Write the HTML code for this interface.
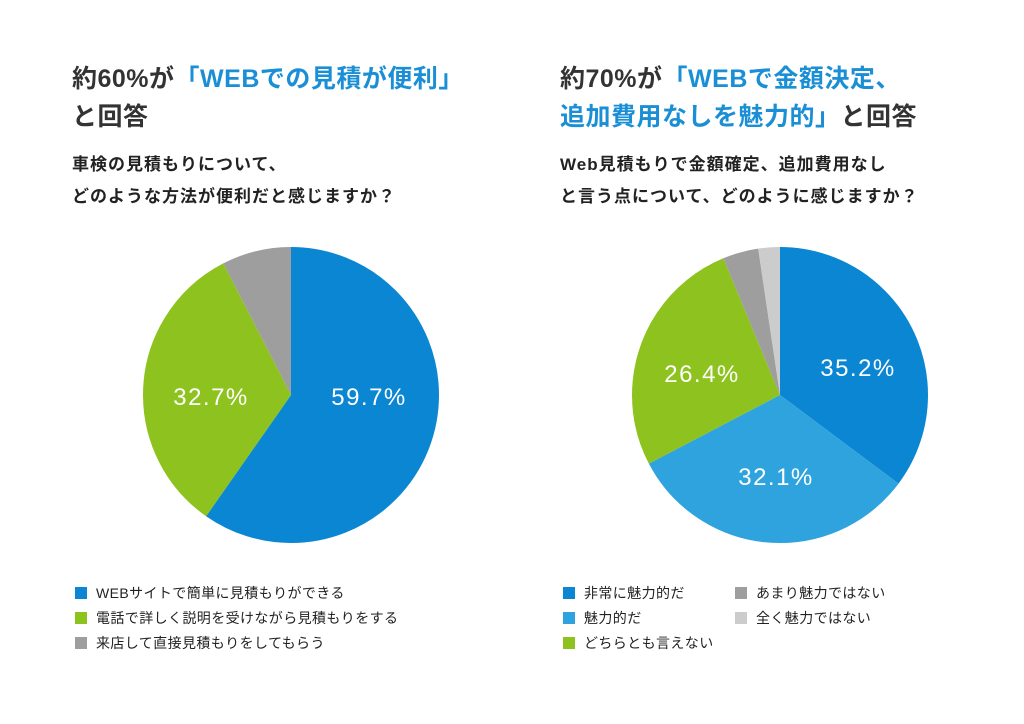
<!DOCTYPE html>
<html><head><meta charset="utf-8"><style>
body{margin:0;width:1024px;height:724px;background:#fff;overflow:hidden;position:relative;font-family:"Liberation Sans","Noto Sans CJK JP",sans-serif;color:#333;}
.t{position:absolute;font-weight:bold;white-space:nowrap;}
.h{font-size:25px;line-height:38px;letter-spacing:0.5px}
.b{color:#1a8fd6}
.s{font-size:17px;line-height:32px;color:#222;letter-spacing:1px}
.lg{position:absolute;font-size:14px;color:#222;white-space:nowrap;letter-spacing:0.4px}
.lg i{display:inline-block;width:12px;height:12px;margin-right:9px;vertical-align:-1px}
svg{position:absolute;left:0;top:0}
</style></head><body>
<div class="t h" style="left:72px;top:60px">約60%が<span class="b">「WEBでの見積が便利」</span><br>と回答</div>
<div class="t s" style="left:72px;top:149px">車検の見積もりについて、<br>どのような方法が便利だと感じますか？</div>
<div class="t h" style="left:560px;top:60px">約70%が<span class="b">「WEBで金額決定、<br>追加費用なしを魅力的」</span>と回答</div>
<div class="t s" style="left:560px;top:149px">Web見積もりで金額確定、追加費用なし<br>と言う点について、どのように感じますか？</div>
<svg width="1024" height="724">
<g transform="rotate(-90 291 395)" fill="none" stroke-width="148">
<circle cx="291" cy="395" r="74" stroke="#0a86d2" stroke-dasharray="277.58 465"/>
<circle cx="291" cy="395" r="74" stroke="#8dc21f" stroke-dasharray="152.04 465" stroke-dashoffset="-277.58"/>
<circle cx="291" cy="395" r="74" stroke="#9e9e9e" stroke-dasharray="35.34 465" stroke-dashoffset="-429.62"/>
</g>
<g transform="rotate(-90 780 395)" fill="none" stroke-width="148">
<circle cx="780" cy="395" r="74" stroke="#0a86d2" stroke-dasharray="163.67 465"/>
<circle cx="780" cy="395" r="74" stroke="#2ea3de" stroke-dasharray="149.25 465" stroke-dashoffset="-163.67"/>
<circle cx="780" cy="395" r="74" stroke="#8dc21f" stroke-dasharray="122.75 465" stroke-dashoffset="-312.92"/>
<circle cx="780" cy="395" r="74" stroke="#9e9e9e" stroke-dasharray="18.13 465" stroke-dashoffset="-435.67"/>
<circle cx="780" cy="395" r="74" stroke="#cccccc" stroke-dasharray="11.16 465" stroke-dashoffset="-453.8"/>
</g>
<g fill="#fff" font-size="24" letter-spacing="1.5" font-family="Liberation Sans, sans-serif" text-anchor="middle">
<text x="369" y="405">59.7%</text><text x="211" y="405">32.7%</text>
<text x="858" y="376">35.2%</text><text x="776" y="485">32.1%</text><text x="702" y="382">26.4%</text>
</g>
</svg>
<div class="lg" style="left:75px;top:583px"><i style="background:#0a86d2"></i>WEBサイトで簡単に見積もりができる</div>
<div class="lg" style="left:75px;top:608px"><i style="background:#8dc21f"></i>電話で詳しく説明を受けながら見積もりをする</div>
<div class="lg" style="left:75px;top:633px"><i style="background:#9e9e9e"></i>来店して直接見積もりをしてもらう</div>
<div class="lg" style="left:563px;top:583px"><i style="background:#0a86d2"></i>非常に魅力的だ</div>
<div class="lg" style="left:563px;top:608px"><i style="background:#2ea3de"></i>魅力的だ</div>
<div class="lg" style="left:563px;top:633px"><i style="background:#8dc21f"></i>どちらとも言えない</div>
<div class="lg" style="left:735px;top:583px"><i style="background:#9e9e9e"></i>あまり魅力ではない</div>
<div class="lg" style="left:735px;top:608px"><i style="background:#cccccc"></i>全く魅力ではない</div>
</body></html>
